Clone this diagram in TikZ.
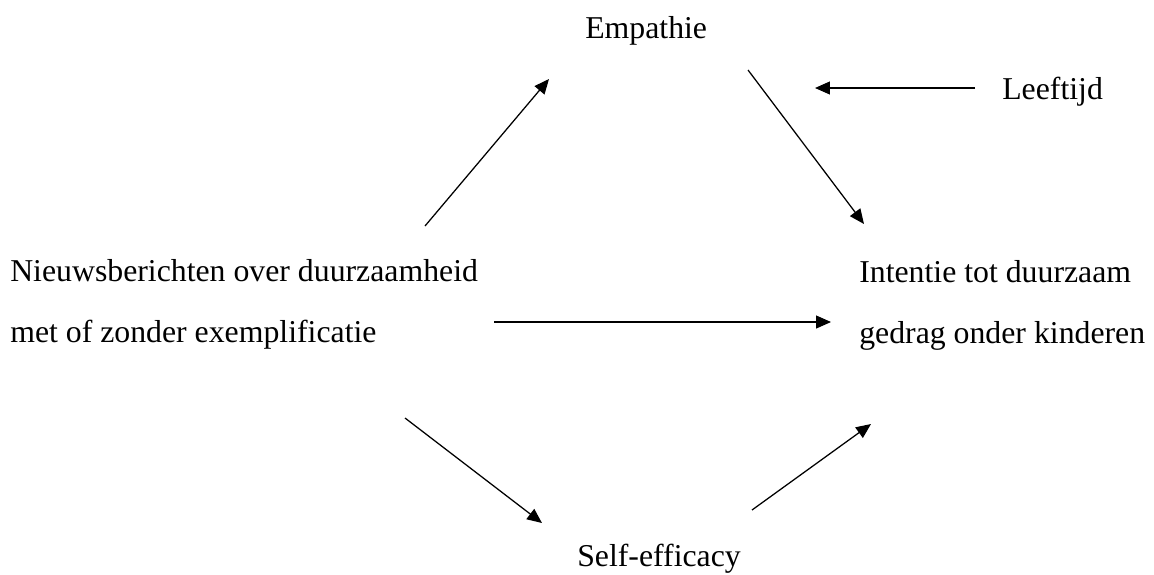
\documentclass[tikz,border=0pt]{standalone}
\usepackage{fontspec}
\setmainfont{Liberation Serif}
\usetikzlibrary{arrows.meta}
\tikzstyle{label} = [font=\fontsize{22.6}{42.7}\selectfont, inner sep=0pt]
\tikzstyle{pijl} = [line width=0.9pt, -{Triangle[length=0.37cm, width=0.32cm]}]

\begin{document}
\begin{tikzpicture}[x=0.025cm, y=-0.025cm]
\useasboundingbox (0,0) rectangle (1154,574);

\node[label, anchor=base west] (empathie) at (585,38) {Empathie};
\node[label, anchor=base west] (leeftijd) at (1002,99) {Leeftijd};
\node[label, anchor=base west, align=left] (nieuws) at (10,342)
  {Nieuwsberichten over duurzaamheid\\met of zonder exemplificatie};
\node[label, anchor=base west, align=left] (intentie) at (859,343)
  {Intentie tot duurzaam\\gedrag onder kinderen};
\node[label, anchor=base west] (selfeff) at (577,566) {Self-efficacy};

\coordinate (n1) at (425,226);
\coordinate (e1) at (549,79);
\coordinate (e2) at (748,70);
\coordinate (i1) at (864,224);
\coordinate (l1) at (975,88);
\coordinate (l2) at (815,88);
\coordinate (n2) at (494,322);
\coordinate (i2) at (831,322);
\coordinate (n3) at (405,418);
\coordinate (s1) at (542,523);
\coordinate (s2) at (752,510);
\coordinate (i3) at (871,424);

\draw[pijl] (n1) -- (e1);
\draw[pijl] (e2) -- (i1);
\draw[pijl] (l1) -- (l2);
\draw[pijl] (n2) -- (i2);
\draw[pijl] (n3) -- (s1);
\draw[pijl] (s2) -- (i3);

\end{tikzpicture}
\end{document}
